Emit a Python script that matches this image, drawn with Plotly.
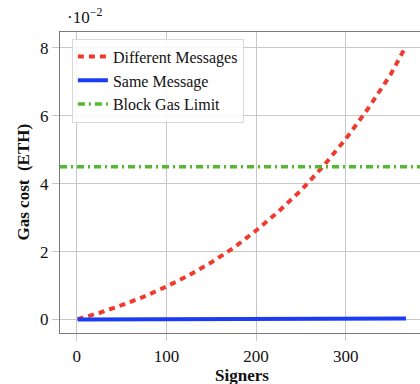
import plotly.graph_objects as go

signers = [1, 25, 50, 75, 100, 125, 150, 175, 200, 225, 250, 275, 300, 325, 350, 367]
diff_msgs = [0.01, 0.19, 0.42, 0.67, 0.97, 1.30, 1.68, 2.11, 2.62, 3.18, 3.80, 4.52, 5.32, 6.22, 7.22, 8.05]
same_signers = [1, 100, 200, 300, 367]
same_msg = [0.0, 0.01, 0.015, 0.025, 0.03]
block_limit = 4.5

x_range = [-18.6, 382.7]
y_range = [-0.40, 8.47]
x_ticks = [0, 100, 200, 300]
y_ticks = [0, 2, 4, 6, 8]

FONT = "Liberation Serif"
FS = 17

fig = go.Figure()
fig.add_trace(go.Scatter(x=signers, y=diff_msgs, mode="lines", name="Different Messages",
                         line=dict(color="#f03a2e", width=4, dash="6px,5px")))
fig.add_trace(go.Scatter(x=same_signers, y=same_msg, mode="lines", name="Same Message",
                         line=dict(color="#1a3cf5", width=4)))
fig.add_trace(go.Scatter(x=x_range, y=[block_limit, block_limit], mode="lines", name="Block Gas Limit",
                         line=dict(color="#55b830", width=3.5, dash="7px,4px,2px,4px")))

axis_common = dict(showgrid=True, gridcolor="#c8c8c8", gridwidth=1, zeroline=False,
                   showline=True, linecolor="#7a7a7a", linewidth=1.2,
                   ticks="outside", ticklen=7, tickcolor="#c8c8c8", tickwidth=1,
                   automargin=False,
                   tickfont=dict(family=FONT, size=FS, color="#111"))

fig.update_xaxes(range=x_range, tickvals=x_ticks, mirror=True, **axis_common)
fig.update_yaxes(range=y_range, tickvals=y_ticks, mirror=False, **axis_common)

fig.add_annotation(xref="paper", yref="paper", x=0.506, y=0, yshift=-42, xanchor="center", yanchor="middle",
                   text="<b>Signers</b>", showarrow=False, font=dict(family=FONT, size=FS, color="#111"))
fig.add_annotation(xref="paper", yref="paper", x=0, xshift=-37, y=0.5, xanchor="center", yanchor="middle",
                   text="<b>Gas cost  (ETH)</b>", textangle=-90, showarrow=False,
                   font=dict(family=FONT, size=FS, color="#111"))
fig.add_annotation(xref="paper", yref="paper", x=0.015, y=1.0, yshift=3, xanchor="left", yanchor="bottom",
                   text="·10<sup>−2</sup>", showarrow=False, font=dict(family=FONT, size=FS, color="#111"))

fig.update_layout(
    width=420, height=384,
    margin=dict(l=60, r=0, t=32, b=51),
    plot_bgcolor="white", paper_bgcolor="white",
    showlegend=True,
    legend=dict(x=0.033, y=0.978, xanchor="left", yanchor="top",
                bgcolor="rgba(255,255,255,0.85)", bordercolor="#d8d8d8", borderwidth=1,
                font=dict(family=FONT, size=16, color="#111"),
                itemwidth=30, tracegroupgap=0, entrywidth=150, entrywidthmode="pixels"),
)

fig.write_html("out.html", config={"displayModeBar": False},
               post_script="document.body.style.margin='0';document.body.style.overflow='hidden';")
